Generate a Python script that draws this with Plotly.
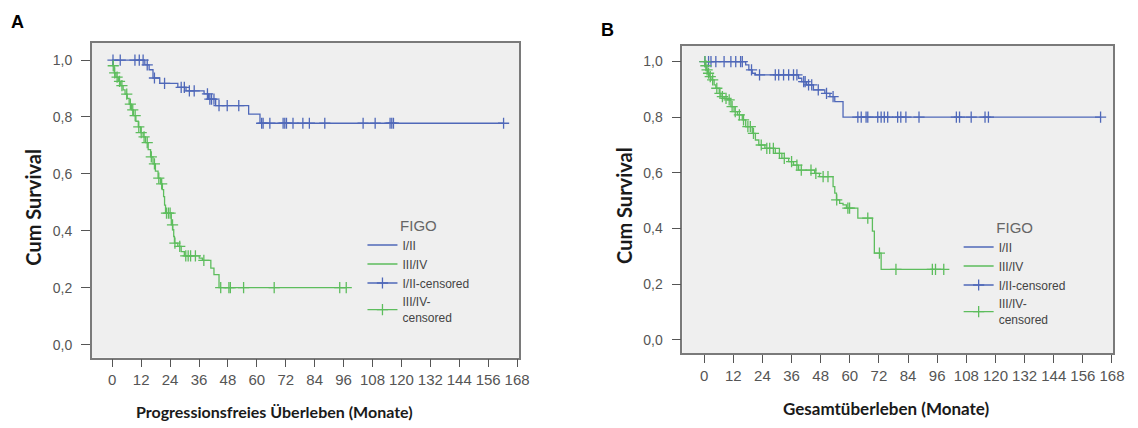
import plotly.graph_objects as go

# ---------------- Panel A: Progressionsfreies Überleben ----------------
a_i_ii_t = [0, 13.5, 15.3, 16.9, 19.7, 27.2, 30.6, 38.1, 40.0, 42.9, 56.6, 61.3]
a_i_ii_s = [1.0, 0.983, 0.966, 0.937, 0.918, 0.904, 0.892, 0.881, 0.863, 0.84, 0.81, 0.778]
a_i_ii_cens = [0.3, 3.3, 9.4, 11.2, 12.8, 14.5, 17.5, 21.7, 28.6, 29.9, 32.0, 34.0,
               39.5, 40.5, 41.2, 42.2, 44.3, 47.7, 52.5, 62.0, 62.6, 65.4, 70.9,
               71.6, 72.3, 75.0, 79.1, 81.8, 88.2, 104.1, 109.1, 115.3, 116.0, 116.7, 162.4]

a_iii_iv_t = [0, 0.3, 0.8, 1.5, 2.5, 3.5, 4.5, 5.3, 6.2, 7.0, 8.0, 8.8, 9.8, 10.8, 11.8,
              12.8, 13.8, 14.9, 15.9, 16.9, 17.9, 19.0, 20.0, 20.8, 21.3, 21.7, 22.1,
              24.5, 25.1, 25.5, 25.8, 27.2, 28.6, 29.9, 36.1, 37.4, 40.9, 42.2, 44.3]
a_iii_iv_s = [1.0, 0.98, 0.955, 0.94, 0.925, 0.91, 0.895, 0.88, 0.865, 0.845, 0.825, 0.805,
              0.785, 0.765, 0.745, 0.73, 0.71, 0.685, 0.66, 0.635, 0.61, 0.585, 0.565, 0.545,
              0.52, 0.49, 0.462, 0.421, 0.404, 0.38, 0.357, 0.345, 0.327, 0.312, 0.304,
              0.296, 0.269, 0.246, 0.2]
a_iii_iv_cens = [0.4, 1.0, 2.0, 3.0, 4.0, 6.0, 7.5, 8.5, 9.5, 11.0, 12.0, 13.2, 14.5, 16.2,
                 17.5, 19.3, 20.5, 22.5, 23.3, 24.0, 25.0, 26.0, 28.0, 30.5, 31.5, 32.5,
                 34.5, 38.0, 45.0, 48.4, 49.0, 54.5, 67.2, 94.4, 97.1]

# ---------------- Panel B: Gesamtüberleben ----------------
b_i_ii_t = [0, 17.1, 18.4, 19.8, 21.1, 38.9, 40.2, 42.2, 45.0, 49.7, 51.8, 53.8, 57.2]
b_i_ii_s = [1.0, 0.988, 0.97, 0.958, 0.952, 0.94, 0.928, 0.916, 0.898, 0.886, 0.874, 0.856, 0.8]
b_i_ii_cens = [0.3, 1.8, 2.8, 4.8, 8.2, 11.0, 13.0, 15.0, 15.7, 19.5, 22.8, 29.3, 30.7,
               32.7, 34.8, 36.8, 38.2, 41.0, 41.6, 43.0, 44.3, 47.0, 50.4, 53.1, 63.3,
               64.7, 66.7, 67.4, 71.5, 72.9, 74.2, 75.6, 79.7, 81.0, 83.1, 88.5, 103.9,
               105.2, 110.0, 115.7, 117.1, 163.3]

b_iii_iv_t = [0, 0.5, 0.9, 1.4, 2.1, 2.8, 4.1, 4.8, 6.2, 6.9, 8.2, 9.6, 11.0, 12.3, 13.7,
              15.7, 17.1, 19.8, 21.1, 22.5, 25.0, 29.3, 32.0, 34.8, 36.8, 38.9, 45.5, 47.5,
              53.1, 53.8, 54.5, 55.8, 57.2, 58.6, 63.3, 69.3, 70.1, 72.9]
b_iii_iv_s = [1.0, 0.985, 0.97, 0.958, 0.946, 0.934, 0.916, 0.904, 0.886, 0.874, 0.868,
              0.862, 0.838, 0.82, 0.808, 0.79, 0.766, 0.742, 0.718, 0.7, 0.688, 0.67, 0.652,
              0.64, 0.628, 0.61, 0.598, 0.586, 0.55, 0.527, 0.503, 0.49, 0.485, 0.473,
              0.437, 0.39, 0.311, 0.253]
b_iii_iv_cens = [0.3, 0.7, 1.2, 1.8, 2.5, 3.5, 5.2, 6.5, 7.5, 9.0, 10.3, 11.5, 12.8, 14.5,
                 16.2, 18.0, 19.0, 20.3, 23.5, 25.8, 27.0, 28.5, 31.0, 33.0, 36.0, 38.2,
                 40.0, 44.0, 46.0, 49.0, 51.0, 54.6, 59.2, 59.9, 67.4, 72.2, 79.0, 94.0,
                 95.3, 98.7]

x_ticks = list(range(0, 169, 12))
y_ticks = [0.0, 0.2, 0.4, 0.6, 0.8, 1.0]
y_ticktext = ["0,0", "0,2", "0,4", "0,6", "0,8", "1,0"]

BLUE = "#4f68b9"
GREEN = "#5dbd5d"


def surv_at(ts, ss, t):
    v = ss[0]
    for ti, si in zip(ts, ss):
        if ti <= t:
            v = si
    return v


def curve(ts, ss, cens):
    end = max(max(cens), ts[-1])
    return ts + [end], ss + [ss[-1]]


def cens_xy(ts, ss, cens):
    xs, ys = [], []
    for c in cens:
        xs += [c, None]
        ys += [surv_at(ts, ss, c), None]
    return xs, ys


fig = go.Figure()

panels = [
    ("x", "y", "legend", a_i_ii_t, a_i_ii_s, a_i_ii_cens, a_iii_iv_t, a_iii_iv_s, a_iii_iv_cens),
    ("x2", "y2", "legend2", b_i_ii_t, b_i_ii_s, b_i_ii_cens, b_iii_iv_t, b_iii_iv_s, b_iii_iv_cens),
]

for xa, ya, lg, t1, s1, c1, t2, s2, c2 in panels:
    cx, cy = curve(t1, s1, c1)
    fig.add_trace(go.Scatter(x=cx, y=cy, mode="lines", line=dict(color=BLUE, width=1.3, shape="hv"),
                             name="I/II", xaxis=xa, yaxis=ya, legend=lg))
    cx, cy = curve(t2, s2, c2)
    fig.add_trace(go.Scatter(x=cx, y=cy, mode="lines", line=dict(color=GREEN, width=1.3, shape="hv"),
                             name="III/IV", xaxis=xa, yaxis=ya, legend=lg))
    mx, my = cens_xy(t1, s1, c1)
    fig.add_trace(go.Scatter(x=mx, y=my, mode="lines+markers", connectgaps=False,
                             line=dict(color=BLUE, width=1.3),
                             marker=dict(symbol="cross-thin-open", size=8, line=dict(color=BLUE, width=1.3)),
                             name="I/II-censored", xaxis=xa, yaxis=ya, legend=lg))
    mx, my = cens_xy(t2, s2, c2)
    fig.add_trace(go.Scatter(x=mx, y=my, mode="lines+markers", connectgaps=False,
                             line=dict(color=GREEN, width=1.3),
                             marker=dict(symbol="cross-thin-open", size=8, line=dict(color=GREEN, width=1.3)),
                             name="III/IV-<br>censored", xaxis=xa, yaxis=ya, legend=lg))

W, H = 1138, 428

axis_common = dict(showgrid=False, zeroline=False, showline=True, linecolor="#7a7a7a", linewidth=1.5,
                   mirror=True, ticks="outside", ticklen=9, tickwidth=1.2, tickcolor="#555",
                   tickfont=dict(family="Liberation Sans, Arial", size=14, color="#555"))

xa_common = dict(axis_common, tickvals=x_ticks, ticktext=[str(v) for v in x_ticks], ticklen=8,
                 tickfont=dict(family="Liberation Sans, Arial", size=15, color="#555"))
ya_common = dict(axis_common, tickvals=y_ticks, ticktext=y_ticktext, ticklabelstandoff=6)

legend_common = dict(bgcolor="rgba(0,0,0,0)", yanchor="top", xanchor="left",
                     font=dict(family="Liberation Sans, Arial", size=12, color="#444"),
                     title=dict(text="FIGO", side="top center",
                                font=dict(family="Liberation Sans, Arial", size=15, color="#666")),
                     tracegroupgap=0, itemwidth=30)

fig.update_layout(
    width=W, height=H, margin=dict(l=0, r=0, t=0, b=0),
    paper_bgcolor="white", plot_bgcolor="#efefef",
    showlegend=True,
    xaxis=dict(xa_common, domain=[92.7 / W, 524.3 / W], range=[-8.5, 168.9], anchor="y"),
    yaxis=dict(ya_common, domain=[1 - 357.7 / H, 1 - 42.7 / H], range=[-0.046, 1.061], anchor="x"),
    xaxis2=dict(xa_common, domain=[689 / W, 1124.3 / W], range=[-9.0, 168.6], anchor="y2"),
    yaxis2=dict(ya_common, domain=[1 - 353.3 / H, 1 - 46 / H], range=[-0.049, 1.056], anchor="x2"),
    legend=dict(legend_common, x=366 / W, y=1 - 211 / H),
    legend2=dict(legend_common, x=968 / W, y=1 - 213 / H),
)

title_font = dict(family="Lato, Open Sans, sans-serif", size=16, color="#1a1a1a")
ann = [
    dict(text="<b>A</b>", x=18 / W, y=1 - 22 / H, font=dict(family="Liberation Sans, Arial", size=18, color="black")),
    dict(text="<b>B</b>", x=613 / W, y=1 - 30 / H, font=dict(family="Liberation Sans, Arial", size=18, color="black")),
    dict(text="<b>Cum Survival</b>", x=33 / W, y=1 - 207 / H, textangle=-90, font=dict(title_font, size=20)),
    dict(text="<b>Cum Survival</b>", x=630 / W, y=1 - 205 / H, textangle=-90, font=dict(title_font, size=20)),
    dict(text="<b>Progressionsfreies Überleben (Monate)</b>", x=277 / W, y=1 - 411 / H, font=title_font),
    dict(text="<b>Gesamtüberleben (Monate)</b>", x=895 / W, y=1 - 408 / H, font=dict(title_font, size=17)),
]
for a in ann:
    fig.add_annotation(xref="paper", yref="paper", showarrow=False, xanchor="center", yanchor="middle", **a)

fig.write_html(
    "out.html",
    config={"displayModeBar": False},
    post_script=("document.documentElement.style.overflow='hidden';"
                 "document.body.style.overflow='hidden';"
                 "document.body.style.margin='0';document.body.style.padding='0';"),
)
